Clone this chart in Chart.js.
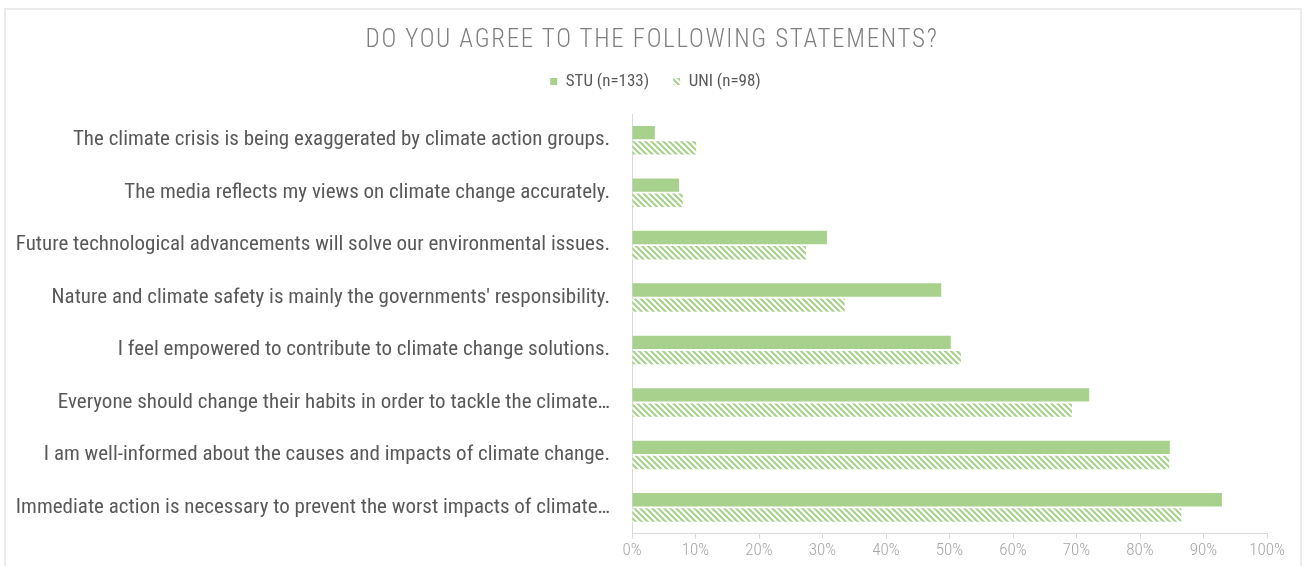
<!DOCTYPE html>
<html>
<head>
<meta charset="utf-8">
<script src="https://cdn.jsdelivr.net/npm/chart.js@4.4.0/dist/chart.umd.min.js"></script>
<style>
  html, body { margin: 0; padding: 0; background: #ffffff; overflow: hidden; }
  #marco {
    position: relative;
    width: 1304px;
    height: 566px;
  }
  #borde {
    position: absolute;
    left: 4px;
    top: 8px;
    width: 1294px;
    height: 600px;
    border: 2px solid #ebebeb;
    pointer-events: none;
  }
  #titulo {
    position: absolute;
    top: 24px;
    left: 0;
    width: 100%;
    text-align: center;
    font-family: "Roboto Condensed", sans-serif;
    font-weight: 300;
    font-size: 25px;
    letter-spacing: 1.7px;
    color: #7f7f7f;
  }
  canvas { display: block; }
</style>
</head>
<body>
<div id="marco">
  <canvas id="graficoAcuerdo" width="1304" height="566"></canvas>
  <div id="borde"></div>
  <div id="titulo">DO YOU AGREE TO THE FOLLOWING STATEMENTS?</div>
</div>
<script>
// Datos del gráfico
const afirmaciones = [
    'The climate crisis is being exaggerated by climate action groups.',
    'The media reflects my views on climate change accurately.',
    'Future technological advancements will solve our environmental issues.',
    "Nature and climate safety is mainly the governments' responsibility.",
    'I feel empowered to contribute to climate change solutions.',
    'Everyone should change their habits in order to tackle the climate…',
    'I am well-informed about the causes and impacts of climate change.',
    'Immediate action is necessary to prevent the worst impacts of climate…'
];
const valoresSTU = [3.6, 7.4, 30.7, 48.7, 50.2, 72.0, 84.7, 92.9];
const valoresUNI = [10.1, 8.0, 27.4, 33.5, 51.8, 69.3, 84.6, 86.5];
const etiquetaSTU = 'STU (n=133)';
const etiquetaUNI = 'UNI (n=98)';

const verde = '#a9d18e';

// Patrón rayado para UNI
function crearRayado() {
    const c = document.createElement('canvas');
    c.width = 6;
    c.height = 6;
    const g = c.getContext('2d');
    g.fillStyle = '#ffffff';
    g.fillRect(0, 0, 6, 6);
    g.strokeStyle = verde;
    g.lineWidth = 2.2;
    g.beginPath();
    g.moveTo(-3, -3); g.lineTo(9, 9);
    g.moveTo(-3, 3); g.lineTo(3, 9);
    g.moveTo(3, -3); g.lineTo(9, 3);
    g.stroke();
    return g.createPattern(c, 'repeat');
}

const fuente = '"Roboto Condensed", sans-serif';

// Espacio extra debajo de la leyenda y desplazamiento a la derecha
const ajusteLeyenda = {
    id: 'ajusteLeyenda',
    beforeInit(chart) {
        const fitOriginal = chart.legend.fit;
        chart.legend.fit = function () {
            fitOriginal.bind(chart.legend)();
            this.height += 14;
        };
    },
    afterLayout(chart) {
        chart.legend.left += 20;
        chart.legend.right += 20;
    }
};

const ctx = document.getElementById('graficoAcuerdo').getContext('2d');
const rayado = crearRayado();

const grafico = new Chart(ctx, {
    type: 'bar',
    data: {
        labels: afirmaciones,
        datasets: [{
            label: etiquetaSTU,
            data: valoresSTU,
            backgroundColor: verde,
            borderWidth: 0,
            categoryPercentage: 0.58,
            barPercentage: 0.88
        }, {
            label: etiquetaUNI,
            data: valoresUNI,
            backgroundColor: rayado,
            borderWidth: 0,
            categoryPercentage: 0.58,
            barPercentage: 0.88
        }]
    },
    options: {
        indexAxis: 'y',
        responsive: false,
        animation: false,
        layout: {
            padding: { top: 49, right: 37, left: 4, bottom: 3 }
        },
        scales: {
            x: {
                min: 0,
                max: 100,
                ticks: {
                    stepSize: 10,
                    color: '#a6a6a6',
                    padding: 2,
                    font: { family: fuente, size: 17, weight: 300 },
                    callback: function (v) { return v + '%'; }
                },
                grid: {
                    drawOnChartArea: false,
                    drawTicks: true,
                    tickLength: 5,
                    color: '#d9d9d9'
                },
                border: { color: '#d9d9d9' }
            },
            y: {
                afterFit: function (escala) {
                    escala.width = 628;
                },
                ticks: {
                    color: '#595959',
                    padding: 14,
                    font: { family: fuente, size: 21 }
                },
                grid: { display: false },
                border: { color: '#d9d9d9' }
            }
        },
        plugins: {
            legend: {
                position: 'top',
                labels: {
                    boxWidth: 7,
                    boxHeight: 7,
                    padding: 24,
                    color: '#595959',
                    font: { family: fuente, size: 17 }
                }
            },
            tooltip: { enabled: false }
        }
    },
    plugins: [ajusteLeyenda]
});
</script>
</body>
</html>
